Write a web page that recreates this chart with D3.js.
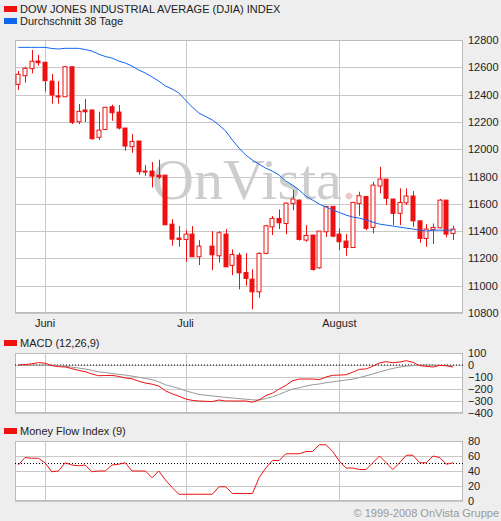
<!DOCTYPE html>
<html>
<head>
<meta charset="utf-8">
<script src="https://cdn.jsdelivr.net/npm/d3@7"></script>
<style>
  body { margin: 0; background: #eeeeee; }
  svg { display: block; font-family: "Liberation Sans", Arial, sans-serif; }
</style>
</head>
<body>
<svg id="chart" width="501" height="521"></svg>
<script>
// trading days, 2008-07-04 is a holiday slot with no candle
const dates = ["05-27","05-28","05-29","05-30",
  "06-02","06-03","06-04","06-05","06-06","06-09","06-10","06-11","06-12","06-13",
  "06-16","06-17","06-18","06-19","06-20","06-23","06-24","06-25","06-26","06-27","06-30",
  "07-01","07-02","07-03","07-04","07-07","07-08","07-09","07-10","07-11",
  "07-14","07-15","07-16","07-17","07-18","07-21","07-22","07-23","07-24","07-25",
  "07-28","07-29","07-30","07-31",
  "08-01","08-04","08-05","08-06","08-07","08-08","08-11","08-12","08-13","08-14","08-15",
  "08-18","08-19","08-20","08-21","08-22","08-25","08-26"];
const holiday = "07-04";
const months = [{ day: "06-02", label: "Juni" }, { day: "07-01", label: "Juli" }, { day: "08-01", label: "August" }];

const open  = [12475,12538,12590,12646,12637,12499,12390,12384,12604,12201,12287,12287,12087,12145,12311,12272,12155,12018,12060,11840,11840,11810,11810,11451,11349,11339,11378,11212,
  11290,11219,11378,11149,11224,11097,11048,10955,11237,11431,11493,11456,11603,11627,11334,11371,11131,11395,11581,11378,11327,11280,11603,11654,11427,11730,11781,11635,11530,11607,11657,11475,11346,11412,11424,11627,11383];
const high  = [12573,12604,12727,12690,12637,12551,12499,12610,12604,12331,12368,12290,12274,12310,12326,12324,12155,12111,12060,11884,11906,11923,11810,11488,11437,11407,11437,11334,
  11400,11400,11415,11266,11241,11239,11119,11244,11445,11510,11559,11610,11701,11632,11444,11371,11400,11581,11581,11420,11378,11610,11688,11654,11761,11871,11781,11635,11713,11713,11693,11475,11451,11456,11635,11627,11439];
const low   = [12434,12487,12556,12612,12421,12333,12333,12384,12184,12184,12199,12070,12067,12140,12208,12145,11989,11974,11813,11805,11720,11783,11446,11292,11285,11175,11212,11151,
  11114,11168,11138,11077,10973,10999,10826,10911,11230,11371,11415,11378,11554,11330,11322,11110,11125,11358,11355,11261,11219,11280,11512,11407,11383,11676,11591,11444,11444,11591,11431,11314,11285,11305,11420,11354,11334];
const close = [12549,12593,12644,12634,12502,12397,12384,12604,12197,12277,12274,12077,12140,12307,12267,12155,12023,12057,11835,11835,11803,11796,11446,11341,11339,11378,11212,11290,
  11226,11388,11138,11229,11094,11053,10955,11237,11439,11493,11461,11605,11635,11339,11368,11119,11400,11581,11363,11322,11280,11610,11659,11420,11737,11781,11640,11530,11610,11657,11475,11346,11415,11427,11627,11378,11415];
const ma38  = [12746,12746,12746,12746,12746,12738,12734,12739,12739,12739,12730,12719,12697,12679,12668,12646,12631,12609,12580,12558,12529,12499,12463,12441,12412,12360,12309,12265,
  12214,12177,12133,12067,12008,11957,11920,11890,11861,11839,11810,11766,11737,11700,11656,11627,11598,11576,11554,11536,11517,11503,11495,11481,11466,11451,11444,11437,11429,11422,11415,11407,11400,11407,11407,11407,11407];
const macd  = [0,3,10,20,15,-5,-14,-16,-30,-45,-55,-75,-89,-88,-87,-95,-108,-115,-135,-150,-160,-175,-215,-240,-260,-283,-295,-300,
  -305,-292,-300,-300,-300,-300,-310,-290,-255,-235,-200,-170,-131,-117,-117,-117,-122,-100,-86,-84,-81,-60,-36,-33,-10,17,28,19,25,36,22,-5,-11,-17,-3,-6,-17];
const signal = [0,0,0,0,0,-1,-3,-10,-18,-25,-33,-45,-58,-62,-72,-78,-84,-93,-102,-112,-122,-140,-165,-180,-195,-215,-230,-245,
  -258,-263,-270,-275,-280,-285,-290,-292,-280,-265,-245,-222,-200,-190,-175,-165,-158,-148,-140,-133,-125,-118,-105,-90,-75,-58,-42,-28,-18,-10,-5,0,1,0,-3,-6,-8];
const mfi   = [48,58,57,57,51,39,40,51,48,47,48,39,40,40,48,49,51,40,40,40,31,40,28,18,9,9,9,9,
  9,19,19,10,10,10,10,31,44,54,54,63,63,63,66,66,75,75,66,53,44,44,42,42,51,60,51,42,51,61,61,51,51,60,58,49,51];

const priceTicks = d3.range(10800, 12801, 200);
const macdTicks = [100, 0, -100, -200, -300, -400];
const mfiTicks = [0, 20, 40, 60, 80];

const tradeDays = dates.filter(d => d !== holiday);
const rows = tradeDays.map((d, i) => ({
  day: d, open: open[i], high: high[i], low: low[i], close: close[i],
  ma: ma38[i], macd: macd[i], signal: signal[i], mfi: mfi[i]
}));

const svg = d3.select("#chart");
const left = 15, right = 463;
const red = "#ee1111", grid = "#c8c8c8";

const x = d3.scalePoint().domain(dates).range([18.3, 453.1]);

function panel(top, bottom, domain, ticks, fmt) {
  const y = d3.scaleLinear().domain(domain).range([bottom, top]);
  const g = svg.append("g");
  g.append("rect").attr("x", left).attr("y", top).attr("width", right - left)
    .attr("height", bottom - top).attr("fill", "#fff");
  g.selectAll(".hg").data(ticks).enter().append("line")
    .attr("x1", left).attr("x2", right)
    .attr("y1", d => Math.round(y(d)) + 0.5).attr("y2", d => Math.round(y(d)) + 0.5)
    .attr("stroke", grid);
  g.selectAll(".vg").data(months).enter().append("line")
    .attr("x1", d => Math.round(x(d.day)) + 0.5).attr("x2", d => Math.round(x(d.day)) + 0.5)
    .attr("y1", top).attr("y2", bottom).attr("stroke", grid);
  g.append("rect").attr("x", left + 0.5).attr("y", top + 0.5).attr("width", right - left - 1)
    .attr("height", bottom - top - 1).attr("fill", "none").attr("stroke", "#bbb");
  const ax = d3.axisRight(y).tickValues(ticks).tickSize(0).tickPadding(5).tickFormat(fmt);
  svg.append("g").attr("transform", `translate(${right},0)`).call(ax)
    .call(a => a.select(".domain").remove())
    .selectAll("text").attr("font-size", 11).attr("fill", "#222")
    .attr("font-family", "Liberation Sans, Arial, sans-serif");
  return { g, y };
}

function legend(yPos, color, label) {
  svg.append("rect").attr("x", 4).attr("y", yPos - 4).attr("width", 13).attr("height", 6).attr("fill", color);
  svg.append("text").attr("x", 20).attr("y", yPos + 3).attr("font-size", 11).attr("fill", "#222").text(label);
}

legend(10, red, "DOW JONES INDUSTRIAL AVERAGE (DJIA) INDEX");
legend(22, "#1166ee", "Durchschnitt 38 Tage");
legend(344, red, "MACD (12,26,9)");
legend(432, red, "Money Flow Index (9)");

// main price panel
const main = panel(40, 313, [10800, 12800], priceTicks, d3.format("d"));
const wm = main.g.append("text").attr("x", 152).attr("y", 199)
  .attr("font-family", "Liberation Serif, serif").attr("font-size", 58).attr("fill", "#cdcdcd");
wm.append("tspan").text("OnVista");
wm.append("tspan").attr("fill", "#f0c8c8").text(".");

const cw = 5;
const candle = main.g.selectAll(".c").data(rows).enter().append("g");
candle.append("line")
  .attr("x1", d => Math.round(x(d.day)) + 0.5).attr("x2", d => Math.round(x(d.day)) + 0.5)
  .attr("y1", d => main.y(d.high)).attr("y2", d => main.y(d.low))
  .attr("stroke", red);
candle.append("rect")
  .attr("x", d => Math.round(x(d.day)) - cw / 2 + 0.5)
  .attr("y", d => main.y(Math.max(d.open, d.close)))
  .attr("width", cw - 1)
  .attr("height", d => Math.max(1, Math.abs(main.y(d.open) - main.y(d.close))))
  .attr("fill", d => d.close > d.open ? "#fff" : red)
  .attr("stroke", red);

main.g.append("path").datum(rows)
  .attr("d", d3.line().x(d => x(d.day)).y(d => main.y(d.ma)))
  .attr("fill", "none").attr("stroke", "#1166ee").attr("stroke-width", 1);

// month labels
svg.selectAll(".ml").data(months).enter().append("text")
  .attr("x", d => x(d.day)).attr("y", 327).attr("text-anchor", "middle")
  .attr("font-size", 11).attr("fill", "#222").text(d => d.label);

// MACD panel
const mp = panel(353, 413, [-400, 100], macdTicks, d3.format("d"));
mp.g.append("line").attr("x1", left).attr("x2", right)
  .attr("y1", mp.y(0)).attr("y2", mp.y(0)).attr("stroke", "#000").attr("stroke-dasharray", "1,2");
mp.g.append("path").datum(rows)
  .attr("d", d3.line().x(d => x(d.day)).y(d => mp.y(d.signal)))
  .attr("fill", "none").attr("stroke", "#999");
mp.g.append("path").datum(rows)
  .attr("d", d3.line().x(d => x(d.day)).y(d => mp.y(d.macd)))
  .attr("fill", "none").attr("stroke", red);

// MFI panel
const fp = panel(441, 501, [0, 80], mfiTicks, d3.format("d"));
fp.g.append("line").attr("x1", left).attr("x2", right)
  .attr("y1", fp.y(50)).attr("y2", fp.y(50)).attr("stroke", "#000").attr("stroke-dasharray", "1,2");
fp.g.append("path").datum(rows)
  .attr("d", d3.line().x(d => x(d.day)).y(d => fp.y(d.mfi)))
  .attr("fill", "none").attr("stroke", red);

svg.append("text").attr("x", 499).attr("y", 517).attr("text-anchor", "end")
  .attr("font-size", 11).attr("fill", "#999").text("© 1999-2008 OnVista Gruppe");
</script>
</body>
</html>
